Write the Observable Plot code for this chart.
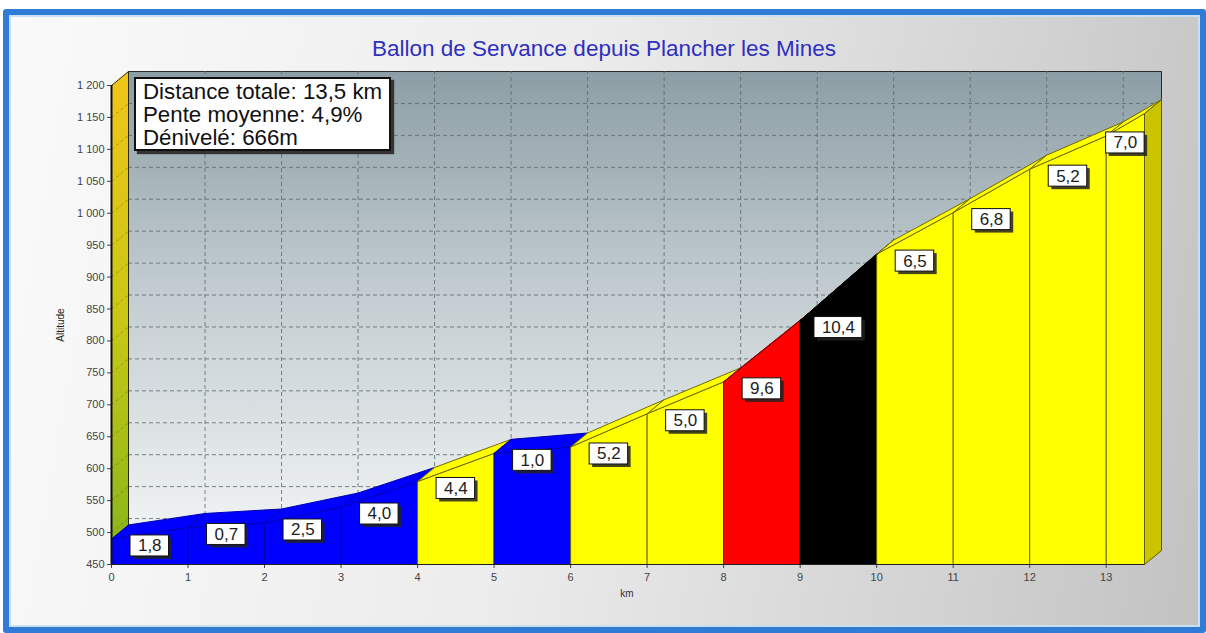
<!DOCTYPE html>
<html><head><meta charset="utf-8">
<script src="https://cdn.jsdelivr.net/npm/d3@7"></script>
<script src="https://cdn.jsdelivr.net/npm/@observablehq/plot@0.6"></script>
<style>
html,body{margin:0;padding:0;}
body{width:1206px;height:633px;overflow:hidden;background:#fff;position:relative;font-family:"Liberation Sans",Arial,sans-serif;}
#frame{position:absolute;left:3px;top:9px;width:1191px;height:612px;border:6px solid #2f7bd5;border-radius:3px;
 background:linear-gradient(100deg,#fafafa 0%,#ececec 45%,#d2d2d2 80%,#c2c2c2 100%);box-shadow:inset 0 0 0 2px #c9dff4;}
#chart{position:absolute;left:0;top:0;}
#title{position:absolute;left:0;width:1208px;top:36px;text-align:center;font-size:22.5px;color:#2f2fbf;line-height:26px;}
#info{position:absolute;left:134px;top:77px;width:246px;height:69px;border:2px solid #111;background:#fff;
 box-shadow:3px 3px 1px #333;padding:1px 0 0 7px;font-size:22.3px;line-height:23px;color:#111;}
#ylab{position:absolute;left:60px;top:325px;transform:translate(-50%,-50%) rotate(-90deg);font-size:10px;color:#222;}
#xlab{position:absolute;left:627px;top:593px;transform:translate(-50%,-50%);font-size:10px;color:#333;}
</style></head>
<body>
<div id="frame"></div>
<div id="chart"></div>
<div id="title"></div>
<div id="info"></div>
<div id="ylab">Altitude</div>
<div id="xlab">km</div>
<script>
// ---- data ----
const titre = "Ballon de Servance depuis Plancher les Mines";
const infos = ["Distance totale: 13,5 km", "Pente moyenne: 4,9%", "Dénivelé: 666m"];
const km = [0, 1, 2, 3, 4, 5, 6, 7, 8, 9, 10, 11, 12, 13, 13.5];
const altitude = [490, 508, 515, 540, 580, 624, 634, 686, 736, 832, 936, 1001, 1069, 1121, 1156];
const pente = [1.8, 0.7, 2.5, 4.0, 4.4, 1.0, 5.2, 5.0, 9.6, 10.4, 6.5, 6.8, 5.2, 7.0];
const categorie = ["bleu","bleu","bleu","bleu","jaune","bleu","jaune","jaune","rouge","noir","jaune","jaune","jaune","jaune"];
const yTicks = [450,500,550,600,650,700,750,800,850,900,950,1000,1050,1100,1150,1200];
const xTicks = [0,1,2,3,4,5,6,7,8,9,10,11,12,13];

const palette = {
  bleu:  {fill:"#0000ff", stroke:"#0000b8"},
  jaune: {fill:"#ffff00", stroke:"#6f6a00"},
  rouge: {fill:"#ff0000", stroke:"#8a0000"},
  noir:  {fill:"#000000", stroke:"#000000"}
};

document.getElementById("title").textContent = titre;
document.getElementById("info").innerHTML = infos.map(t => `<div>${t}</div>`).join("");

// ---- layout ----
const W = 1206, H = 633, mL = 111, mR = 62, mT = 85, mB = 69;
const xDom = [km[0], km[km.length-1]];
const yDom = [yTicks[0], yTicks[yTicks.length-1]];
const pxPerKm = (W - mL - mR) / (xDom[1] - xDom[0]);
const pxPerM = (H - mT - mB) / (yDom[1] - yDom[0]);
const dk = 17 / pxPerKm, dm = 14 / pxPerM;   // 3D depth offset

function polys(list) {
  const rows = [];
  list.forEach(({id, pts, fill, stroke}) => {
    [...pts, pts[0]].forEach(([x, y]) => rows.push({id, x, y, fill, stroke}));
  });
  return rows;
}

const segs = pente.map((p, i) => ({i, x0: km[i], x1: km[i+1], e0: altitude[i], e1: altitude[i+1], p, cat: categorie[i]}));
const base = yDom[0];

const wall = polys([{id:"wall", pts:[[xDom[0]+dk, yDom[0]+dm],[xDom[1]+dk, yDom[0]+dm],[xDom[1]+dk, yDom[1]+dm],[xDom[0]+dk, yDom[1]+dm]], fill:"url(#bgWall)", stroke:"#2a2a2a"}]);
const side = polys([{id:"side", pts:[[xDom[0], yDom[0]],[xDom[0], yDom[1]],[xDom[0]+dk, yDom[1]+dm],[xDom[0]+dk, yDom[0]+dm]], fill:"url(#bgSide)", stroke:"#2a2a00"}]);
const faces = polys(segs.map(s => ({id:"f"+s.i, pts:[[s.x0, base],[s.x0, s.e0],[s.x1, s.e1],[s.x1, base]], fill: palette[s.cat].fill, stroke: palette[s.cat].stroke})));
const bands = polys(segs.map(s => ({id:"b"+s.i, pts:[[s.x0, s.e0],[s.x1, s.e1],[s.x1+dk, s.e1+dm],[s.x0+dk, s.e0+dm]], fill: palette[s.cat].fill, stroke: palette[s.cat].stroke})));
const last = segs[segs.length-1];
const endFace = polys([{id:"end", pts:[[last.x1, base],[last.x1, last.e1],[last.x1+dk, last.e1+dm],[last.x1+dk, base+dm]], fill:"#cbc400", stroke:"#5f5a00"}]);

const fmt = v => v.toFixed(1).replace(".", ",");
const labels = segs.map(s => {
  const t = fmt(s.p);
  const wpx = (t.length - 1) * 9.4 + 4.7 + 15;
  const x = (s.x0 + s.x1) / 2;
  return {x, y: s.e0, t, x1: x - wpx/2/pxPerKm, x2: x + wpx/2/pxPerKm, y1: s.e0 - 10.5/pxPerM, y2: s.e0 + 10.5/pxPerM};
});

const hGrid = yTicks.slice(1, -1);
const vGrid = xTicks.slice(1);

const plot = Plot.plot({
  width: W, height: H,
  marginLeft: mL, marginRight: mR, marginTop: mT, marginBottom: mB,
  style: {background: "transparent", fontFamily: "Liberation Sans, Arial, sans-serif", fontSize: "11px", color: "#444"},
  x: {domain: xDom, ticks: xTicks, tickSize: 4, tickPadding: 5, label: null},
  y: {domain: yDom, ticks: yTicks, tickSize: 4, tickPadding: 3, label: null,
      tickFormat: d => d >= 1000 ? Math.floor(d/1000) + " " + String(d % 1000).padStart(3, "0") : String(d)},
  color: {type: "identity"},
  marks: [
    Plot.line(wall, {x: "x", y: "y", z: "id", fill: "url(#bgWall)", stroke: "#2a2a2a", strokeWidth: 1}),
    Plot.ruleY(hGrid, {y: d => d + dm, x1: xDom[0] + dk, x2: xDom[1] + dk, stroke: "#5d686c", strokeDasharray: "4,3", strokeOpacity: 0.8}),
    Plot.ruleX(vGrid, {x: d => d + dk, y1: yDom[0] + dm, y2: yDom[1] + dm, stroke: "#5d686c", strokeDasharray: "4,3", strokeOpacity: 0.8}),
    Plot.line(side, {x: "x", y: "y", z: "id", fill: "url(#bgSide)", stroke: "#2a2a00", strokeWidth: 1}),
    Plot.link(hGrid, {x1: xDom[0], y1: d => d, x2: xDom[0] + dk, y2: d => d + dm, stroke: "#7a6a00", strokeDasharray: "3,3", strokeOpacity: 0.5}),
    Plot.line(faces, {x: "x", y: "y", z: "id", fill: "fill", stroke: "stroke", strokeWidth: 1}),
    Plot.line(bands, {x: "x", y: "y", z: "id", fill: "fill", stroke: "stroke", strokeWidth: 1}),
    Plot.line(endFace, {x: "x", y: "y", z: "id", fill: "fill", stroke: "stroke", strokeWidth: 1}),
    Plot.ruleX([xDom[0]], {y1: yDom[0], y2: yDom[1], stroke: "#111", strokeWidth: 2}),
    Plot.ruleY([yDom[0]], {x1: xDom[0], x2: xDom[1], stroke: "#222", strokeWidth: 1}),
    Plot.rect(labels, {x1: "x1", x2: "x2", y1: "y1", y2: "y2", dx: 3, dy: 10, fill: "#222", fillOpacity: 0.85}),
    Plot.rect(labels, {x1: "x1", x2: "x2", y1: "y1", y2: "y2", dy: 7, fill: "#ffffff", stroke: "#111", strokeWidth: 1}),
    Plot.text(labels, {x: "x", y: "y", text: "t", dy: 7, fontSize: 17, fill: "#1c1c1c"})
  ]
});

const defs = d3.select(plot).insert("defs", ":first-child");
const g1 = defs.append("linearGradient").attr("id", "bgWall").attr("x1", 0).attr("y1", 0).attr("x2", 0).attr("y2", 1);
[["0%", "#8c9ea5"], ["45%", "#c2ccd0"], ["100%", "#f4f6f6"]].forEach(([o, c]) => g1.append("stop").attr("offset", o).attr("stop-color", c));
const g2 = defs.append("linearGradient").attr("id", "bgSide").attr("x1", 0).attr("y1", 0).attr("x2", 0).attr("y2", 1);
[["0%", "#f2c41a"], ["50%", "#c9c814"], ["100%", "#84b41c"]].forEach(([o, c]) => g2.append("stop").attr("offset", o).attr("stop-color", c));

document.getElementById("chart").appendChild(plot);
</script>
</body></html>
